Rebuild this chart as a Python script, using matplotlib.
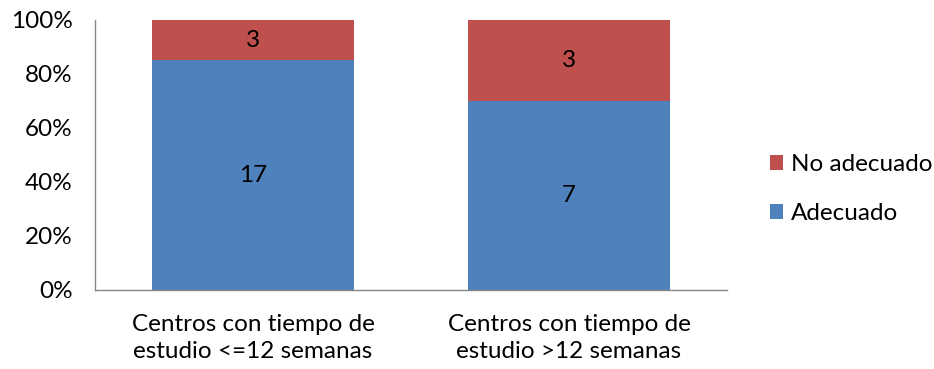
import matplotlib
matplotlib.use("Agg")
import matplotlib.pyplot as plt
import numpy as np

categories = ["Centros con tiempo de\nestudio <=12 semanas", "Centros con tiempo de\nestudio >12 semanas"]
adecuado = [17, 7]
no_adecuado = [3, 3]
yticks = [0, 20, 40, 60, 80, 100]

plt.rcParams['font.family'] = ['Lato', 'DejaVu Sans']

blue = "#4F81BD"
red = "#C0504D"
fs = 17.5

fig = plt.figure(figsize=(9.34, 3.69), dpi=100)
ax = fig.add_axes([95/934, 1 - 290/369, 632/934, 270/369])

tot = np.array(adecuado) + np.array(no_adecuado)
pa = np.array(adecuado) / tot * 100
pn = np.array(no_adecuado) / tot * 100
x = np.arange(len(categories))
w = 0.642
b1 = ax.bar(x, pa, w, color=blue, label="Adecuado")
b2 = ax.bar(x, pn, w, bottom=pa, color=red, label="No adecuado")
for i in range(len(x)):
    ax.text(x[i], pa[i] / 2, str(adecuado[i]), ha="center", va="center", fontsize=fs, color="black")
    ax.text(x[i], pa[i] + pn[i] / 2, str(no_adecuado[i]), ha="center", va="center", fontsize=fs, color="black")

ax.set_xlim(-0.5, 1.5)
ax.set_ylim(0, 100)
ax.set_yticks(yticks)
ax.set_yticklabels([f"{v}%" for v in yticks], fontsize=fs)
ax.set_xticks(x)
ax.set_xticklabels(categories, fontsize=fs, linespacing=1.4)
ax.tick_params(length=0)
ax.tick_params(axis="y", pad=16)
ax.tick_params(axis="x", pad=17)
for s in ["top", "right"]:
    ax.spines[s].set_visible(False)
for s in ["left", "bottom"]:
    ax.spines[s].set_color("#868686")
    ax.spines[s].set_linewidth(1)

handles = [b2, b1]
fig.legend(handles, ["No adecuado", "Adecuado"], loc="center left", bbox_to_anchor=(770/934, 1 - 189/369),
           frameon=False, fontsize=fs, handlelength=0.55, handleheight=0.55, handletextpad=0.3, labelspacing=1.15,
           borderaxespad=0, borderpad=0)

fig.savefig("out.png", dpi=100)
